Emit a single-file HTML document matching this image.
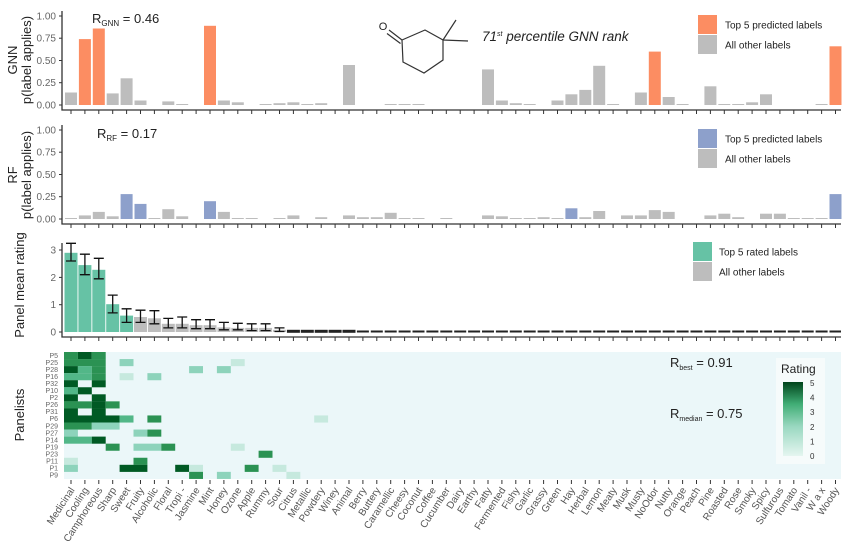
<!DOCTYPE html>
<html><head><meta charset="utf-8"><style>
html,body{margin:0;padding:0;background:#fff;}
svg{display:block;font-family:"Liberation Sans",Arial,sans-serif;}
.tl{font-size:10px;fill:#666;text-anchor:end;}
.ax{stroke:#333;stroke-width:1.3;fill:none;}
.tk{stroke:#333;stroke-width:1;}
.g{fill:#bdbdbd}.o{fill:#fc8d62}.b{fill:#8da0cb}.gr{fill:#66c2a5}
.xl{font-size:10px;fill:#555;text-anchor:end;}
.pl{font-size:7px;fill:#666;text-anchor:end;}
.eb{stroke:#111;stroke-width:1.3;fill:none;}
</style></head><body>
<svg width="853" height="553" viewBox="0 0 853 553" xmlns="http://www.w3.org/2000/svg">
<defs>
<pattern id="tk" x="64.05" y="0" width="13.9" height="553" patternUnits="userSpaceOnUse">
<rect x="6.45" y="0" width="1" height="553" fill="#333"/>
</pattern>
<linearGradient id="rg" x1="0" y1="1" x2="0" y2="0">
<stop offset="0" stop-color="#e5f5f0"/><stop offset="0.4" stop-color="#99d8c0"/><stop offset="0.7" stop-color="#41ae76"/><stop offset="1" stop-color="#00441b"/>
</linearGradient>
</defs>

<!-- ===== Panel 1 GNN ===== -->
<text transform="translate(17,60) rotate(-90)" font-size="13" fill="#222" text-anchor="middle">GNN</text>
<text transform="translate(31,60) rotate(-90)" font-size="13" fill="#222" text-anchor="middle">p(label applies)</text>
<text x="56" y="19.5" class="tl">1.00</text><text x="56" y="41.7" class="tl">0.75</text><text x="56" y="64" class="tl">0.50</text><text x="56" y="86.2" class="tl">0.25</text><text x="56" y="108.5" class="tl">0.00</text>
<g class="tk"><line x1="59" x2="62" y1="16" y2="16"/><line x1="59" x2="62" y1="38.2" y2="38.2"/><line x1="59" x2="62" y1="60.5" y2="60.5"/><line x1="59" x2="62" y1="82.7" y2="82.7"/><line x1="59" x2="62" y1="105" y2="105"/></g>
<g>
<rect class="g" x="65" y="92.5" width="12" height="12.5"/>
<rect class="o" x="78.9" y="39.1" width="12" height="65.9"/>
<rect class="o" x="92.8" y="28.5" width="12" height="76.5"/>
<rect class="g" x="106.7" y="93.4" width="12" height="11.6"/>
<rect class="g" x="120.6" y="78.3" width="12" height="26.7"/>
<rect class="g" x="134.5" y="100.5" width="12" height="4.5"/>
<rect class="g" x="162.3" y="101.4" width="12" height="3.6"/>
<rect class="g" x="176.2" y="104" width="12" height="1"/>
<rect class="o" x="204" y="25.8" width="12" height="79.2"/>
<rect class="g" x="217.9" y="100.5" width="12" height="4.5"/>
<rect class="g" x="231.8" y="102.3" width="12" height="2.7"/>
<rect class="g" x="259.6" y="104" width="12" height="1"/>
<rect class="g" x="273.5" y="103.2" width="12" height="1.8"/>
<rect class="g" x="287.4" y="102.3" width="12" height="2.7"/>
<rect class="g" x="301.3" y="104" width="12" height="1"/>
<rect class="g" x="315.2" y="103.2" width="12" height="1.8"/>
<rect class="g" x="343" y="65" width="12" height="40"/>
<rect class="g" x="384.7" y="104" width="12" height="1"/>
<rect class="g" x="398.6" y="104" width="12" height="1"/>
<rect class="g" x="412.5" y="104" width="12" height="1"/>
<rect class="g" x="482" y="69.4" width="12" height="35.6"/>
<rect class="g" x="495.9" y="100.5" width="12" height="4.5"/>
<rect class="g" x="509.8" y="103.2" width="12" height="1.8"/>
<rect class="g" x="523.7" y="104" width="12" height="1"/>
<rect class="g" x="551.5" y="100.5" width="12" height="4.5"/>
<rect class="g" x="565.4" y="94.3" width="12" height="10.7"/>
<rect class="g" x="579.3" y="89.9" width="12" height="15.1"/>
<rect class="g" x="593.2" y="65.8" width="12" height="39.2"/>
<rect class="g" x="607.1" y="104" width="12" height="1"/>
<rect class="g" x="634.9" y="92.5" width="12" height="12.5"/>
<rect class="o" x="648.8" y="51.6" width="12" height="53.4"/>
<rect class="g" x="662.7" y="97" width="12" height="8"/>
<rect class="g" x="676.6" y="104" width="12" height="1"/>
<rect class="g" x="704.4" y="86.3" width="12" height="18.7"/>
<rect class="g" x="718.3" y="104" width="12" height="1"/>
<rect class="g" x="732.2" y="104" width="12" height="1"/>
<rect class="g" x="746.1" y="102.3" width="12" height="2.7"/>
<rect class="g" x="760" y="94.3" width="12" height="10.7"/>
<rect class="g" x="815.6" y="104" width="12" height="1"/>
<rect class="o" x="829.5" y="46.3" width="12" height="58.7"/>
</g>
<path class="ax" d="M62,11 V110 H841"/>
<rect x="64" y="110" width="777" height="4" fill="url(#tk)"/>
<text x="92" y="23" font-size="13" fill="#222">R<tspan font-size="8" dy="3">GNN</tspan><tspan dy="-3"> = 0.46</tspan></text>
<!-- molecule -->
<g stroke="#333" stroke-width="1.2" fill="none">
<path d="M402,40 L425,30 L443,40 L443,60 L424,73 L403,62 Z"/>
<path d="M389,30 L402,40 M387,33.5 L400.5,43.5"/>
<path d="M443,40 L456,20 M443,40 L468,41"/>
</g>
<text x="383" y="30" font-size="11" fill="#222" text-anchor="middle">O</text>
<text x="482" y="41" font-size="13.5" font-style="italic" fill="#222">71<tspan font-size="7" dy="-5">st</tspan><tspan dy="5"> percentile GNN rank</tspan></text>
<rect class="o" x="698" y="15" width="19" height="19"/>
<rect class="g" x="698" y="35" width="19" height="19"/>
<text x="725" y="28.5" font-size="10" fill="#222">Top 5 predicted labels</text>
<text x="725" y="48.5" font-size="10" fill="#222">All other labels</text>

<!-- ===== Panel 2 RF ===== -->
<text transform="translate(17,175) rotate(-90)" font-size="13" fill="#222" text-anchor="middle">RF</text>
<text transform="translate(31,175) rotate(-90)" font-size="13" fill="#222" text-anchor="middle">p(label applies)</text>
<text x="56" y="133.5" class="tl">1.00</text><text x="56" y="155.7" class="tl">0.75</text><text x="56" y="178" class="tl">0.50</text><text x="56" y="200.2" class="tl">0.25</text><text x="56" y="222.5" class="tl">0.00</text>
<g class="tk"><line x1="59" x2="62" y1="130" y2="130"/><line x1="59" x2="62" y1="152.2" y2="152.2"/><line x1="59" x2="62" y1="174.5" y2="174.5"/><line x1="59" x2="62" y1="196.7" y2="196.7"/><line x1="59" x2="62" y1="219" y2="219"/></g>
<g>
<rect class="g" x="65" y="218" width="12" height="1"/>
<rect class="g" x="78.9" y="215.4" width="12" height="3.6"/>
<rect class="g" x="92.8" y="211.9" width="12" height="7.1"/>
<rect class="g" x="106.7" y="216.3" width="12" height="2.7"/>
<rect class="b" x="120.6" y="194.1" width="12" height="24.9"/>
<rect class="b" x="134.5" y="203.9" width="12" height="15.1"/>
<rect class="g" x="148.4" y="218" width="12" height="1"/>
<rect class="g" x="162.3" y="209.2" width="12" height="9.8"/>
<rect class="g" x="176.2" y="216.3" width="12" height="2.7"/>
<rect class="b" x="204" y="201.2" width="12" height="17.8"/>
<rect class="g" x="217.9" y="211.9" width="12" height="7.1"/>
<rect class="g" x="231.8" y="218" width="12" height="1"/>
<rect class="g" x="245.7" y="218" width="12" height="1"/>
<rect class="g" x="273.5" y="218" width="12" height="1"/>
<rect class="g" x="287.4" y="215.4" width="12" height="3.6"/>
<rect class="g" x="315.2" y="217.2" width="12" height="1.8"/>
<rect class="g" x="343" y="215.4" width="12" height="3.6"/>
<rect class="g" x="356.9" y="217.2" width="12" height="1.8"/>
<rect class="g" x="370.8" y="217.2" width="12" height="1.8"/>
<rect class="g" x="384.7" y="212.8" width="12" height="6.2"/>
<rect class="g" x="398.6" y="218" width="12" height="1"/>
<rect class="g" x="412.5" y="218" width="12" height="1"/>
<rect class="g" x="440.3" y="218" width="12" height="1"/>
<rect class="g" x="482" y="215.4" width="12" height="3.6"/>
<rect class="g" x="495.9" y="216.3" width="12" height="2.7"/>
<rect class="g" x="509.8" y="218" width="12" height="1"/>
<rect class="g" x="523.7" y="218" width="12" height="1"/>
<rect class="g" x="537.6" y="217.2" width="12" height="1.8"/>
<rect class="g" x="551.5" y="218" width="12" height="1"/>
<rect class="b" x="565.4" y="208.3" width="12" height="10.7"/>
<rect class="g" x="579.3" y="217.2" width="12" height="1.8"/>
<rect class="g" x="593.2" y="211" width="12" height="8"/>
<rect class="g" x="621" y="215.4" width="12" height="3.6"/>
<rect class="g" x="634.9" y="215.4" width="12" height="3.6"/>
<rect class="g" x="648.8" y="210.1" width="12" height="8.9"/>
<rect class="g" x="662.7" y="211.9" width="12" height="7.1"/>
<rect class="g" x="704.4" y="215.4" width="12" height="3.6"/>
<rect class="g" x="718.3" y="213.7" width="12" height="5.3"/>
<rect class="g" x="732.2" y="217.2" width="12" height="1.8"/>
<rect class="g" x="760" y="213.7" width="12" height="5.3"/>
<rect class="g" x="773.9" y="213.7" width="12" height="5.3"/>
<rect class="g" x="787.8" y="218" width="12" height="1"/>
<rect class="g" x="801.7" y="218" width="12" height="1"/>
<rect class="g" x="815.6" y="218" width="12" height="1"/>
<rect class="b" x="829.5" y="194.1" width="12" height="24.9"/>
</g>
<path class="ax" d="M62,125 V224 H841"/>
<rect x="64" y="224" width="777" height="4" fill="url(#tk)"/>
<text x="97" y="138" font-size="13" fill="#222">R<tspan font-size="8" dy="3">RF</tspan><tspan dy="-3"> = 0.17</tspan></text>
<rect class="b" x="698" y="129" width="19" height="19"/>
<rect class="g" x="698" y="149" width="19" height="19"/>
<text x="725" y="142.5" font-size="10" fill="#222">Top 5 predicted labels</text>
<text x="725" y="162.5" font-size="10" fill="#222">All other labels</text>

<!-- ===== Panel 3 mean rating ===== -->
<text transform="translate(24,285) rotate(-90)" font-size="13" fill="#222" text-anchor="middle">Panel mean rating</text>
<text x="56" y="253.5" class="tl">3</text><text x="56" y="280.8" class="tl">2</text><text x="56" y="308.1" class="tl">1</text><text x="56" y="335.5" class="tl">0</text>
<g class="tk"><line x1="59" x2="62" y1="250" y2="250"/><line x1="59" x2="62" y1="277.4" y2="277.4"/><line x1="59" x2="62" y1="304.7" y2="304.7"/><line x1="59" x2="62" y1="332" y2="332"/></g>
<g>
<rect class="gr" x="64.5" y="252.8" width="13" height="79.2"/>
<rect class="gr" x="78.4" y="265.1" width="13" height="66.9"/>
<rect class="gr" x="92.3" y="269.8" width="13" height="62.2"/>
<rect class="gr" x="106.2" y="304.2" width="13" height="27.8"/>
<rect class="gr" x="120.1" y="315.6" width="13" height="16.4"/>
<rect class="g" x="134" y="317" width="13" height="15"/>
<rect class="g" x="147.9" y="318.3" width="13" height="13.7"/>
<rect class="g" x="161.8" y="323.8" width="13" height="8.2"/>
<rect class="g" x="175.7" y="323.8" width="13" height="8.2"/>
<rect class="g" x="189.6" y="325.2" width="13" height="6.8"/>
<rect class="g" x="203.5" y="325.2" width="13" height="6.8"/>
<rect class="g" x="217.4" y="327.4" width="13" height="4.6"/>
<rect class="g" x="231.3" y="327.9" width="13" height="4.1"/>
<rect class="g" x="245.2" y="327.9" width="13" height="4.1"/>
<rect class="g" x="259.1" y="327.9" width="13" height="4.1"/>
<rect class="g" x="273" y="329.8" width="13" height="2.2"/>
<rect fill="#222" x="286.9" y="329.8" width="13" height="3"/>
<rect fill="#222" x="300.8" y="329.8" width="13" height="3"/>
<rect fill="#222" x="314.7" y="329.8" width="13" height="3"/>
<rect fill="#222" x="328.6" y="329.8" width="13" height="3"/>
<rect fill="#222" x="342.5" y="329.8" width="13" height="3"/>
</g>
<line x1="356.9" x2="841" y1="331.5" y2="331.5" stroke="#222" stroke-width="2" stroke-dasharray="12 1.9"/>
<g class="eb">
<path d="M66,243.3 H76 M71,243.3 V261 M66,261 H76"/>
<path d="M79.9,254.2 H89.9 M84.9,254.2 V274.7 M79.9,274.7 H89.9"/>
<path d="M93.8,258.3 H103.8 M98.8,258.3 V278.8 M93.8,278.8 H103.8"/>
<path d="M107.7,295.1 H117.7 M112.7,295.1 V312.9 M107.7,312.9 H117.7"/>
<path d="M121.6,308.8 H131.6 M126.6,308.8 V322.4 M121.6,322.4 H131.6"/>
<path d="M135.5,310.2 H145.5 M140.5,310.2 V322.4 M135.5,322.4 H145.5"/>
<path d="M149.4,310.7 H159.4 M154.4,310.7 V323.8 M149.4,323.8 H159.4"/>
<path d="M163.3,318.4 H173.3 M168.3,318.4 V327.9 M163.3,327.9 H173.3"/>
<path d="M177.2,317 H187.2 M182.2,317 V327.9 M177.2,327.9 H187.2"/>
<path d="M191.1,319.7 H201.1 M196.1,319.7 V328.7 M191.1,328.7 H201.1"/>
<path d="M205,319.7 H215 M210,319.7 V328.7 M205,328.7 H215"/>
<path d="M218.9,322.4 H228.9 M223.9,322.4 V329.8 M218.9,329.8 H228.9"/>
<path d="M232.8,323.3 H242.8 M237.8,323.3 V329.8 M232.8,329.8 H242.8"/>
<path d="M246.7,323.8 H256.7 M251.7,323.8 V330.6 M246.7,330.6 H256.7"/>
<path d="M260.6,323.8 H270.6 M265.6,323.8 V330.6 M260.6,330.6 H270.6"/>
<path d="M274.5,327.9 H284.5 M279.5,327.9 V331.5 M274.5,331.5 H284.5"/>
</g>
<path class="ax" d="M62,243 V337 H841"/>
<rect x="64" y="337" width="777" height="4" fill="url(#tk)"/>
<rect class="gr" x="693" y="242" width="19" height="19"/>
<rect class="g" x="693" y="262" width="19" height="19"/>
<text x="719" y="255.5" font-size="10" fill="#222">Top 5 rated labels</text>
<text x="719" y="275.5" font-size="10" fill="#222">All other labels</text>

<!-- ===== Panel 4 heatmap ===== -->
<text transform="translate(24,415) rotate(-90)" font-size="13" fill="#222" text-anchor="middle">Panelists</text>
<rect x="64" y="352" width="777" height="127" fill="#ebf7f9"/>
<g>
<!-- P5 r0 y352 -->
<rect x="64" y="352" width="13.9" height="7.1" fill="#2b9253"/><rect x="77.9" y="352" width="13.9" height="7.1" fill="#005a24"/><rect x="91.8" y="352" width="13.9" height="7.1" fill="#2b9253"/>
<!-- P25 r1 359.05 -->
<rect x="64" y="359.05" width="41.7" height="7.1" fill="#2b9253"/><rect x="119.6" y="359.05" width="13.9" height="7.1" fill="#8dd3bb"/><rect x="230.8" y="359.05" width="13.9" height="7.1" fill="#c6e9de"/>
<!-- P28 r2 366.1 -->
<rect x="64" y="366.1" width="13.9" height="7.1" fill="#005a24"/><rect x="77.9" y="366.1" width="13.9" height="7.1" fill="#52b788"/><rect x="91.8" y="366.1" width="13.9" height="7.1" fill="#2b9253"/><rect x="189.1" y="366.1" width="13.9" height="7.1" fill="#8dd3bb"/><rect x="216.9" y="366.1" width="13.9" height="7.1" fill="#8dd3bb"/>
<!-- P16 r3 373.15 -->
<rect x="64" y="373.15" width="27.8" height="7.1" fill="#52b788"/><rect x="91.8" y="373.15" width="13.9" height="7.1" fill="#2b9253"/><rect x="119.6" y="373.15" width="13.9" height="7.1" fill="#c6e9de"/><rect x="147.4" y="373.15" width="13.9" height="7.1" fill="#8dd3bb"/>
<!-- P32 r4 380.2 -->
<rect x="64" y="380.2" width="13.9" height="7.1" fill="#005a24"/><rect x="91.8" y="380.2" width="13.9" height="7.1" fill="#005a24"/>
<!-- P10 r5 387.25 -->
<rect x="64" y="387.25" width="13.9" height="7.1" fill="#52b788"/><rect x="77.9" y="387.25" width="13.9" height="7.1" fill="#005a24"/>
<!-- P2 r6 394.3 -->
<rect x="64" y="394.3" width="13.9" height="7.1" fill="#005a24"/><rect x="91.8" y="394.3" width="13.9" height="7.1" fill="#005a24"/>
<!-- P26 r7 401.35 -->
<rect x="64" y="401.35" width="27.8" height="7.1" fill="#2b9253"/><rect x="91.8" y="401.35" width="13.9" height="7.1" fill="#005a24"/><rect x="105.7" y="401.35" width="13.9" height="7.1" fill="#2b9253"/>
<!-- P31 r8 408.4 -->
<rect x="64" y="408.4" width="13.9" height="7.1" fill="#005a24"/><rect x="91.8" y="408.4" width="13.9" height="7.1" fill="#005a24"/>
<!-- P6 r9 415.45 -->
<rect x="64" y="415.45" width="55.6" height="7.1" fill="#005a24"/><rect x="119.6" y="415.45" width="13.9" height="7.1" fill="#52b788"/><rect x="147.4" y="415.45" width="13.9" height="7.1" fill="#2b9253"/><rect x="314.2" y="415.45" width="13.9" height="7.1" fill="#c6e9de"/>
<!-- P29 r10 422.5 -->
<rect x="64" y="422.5" width="27.8" height="7.1" fill="#2b9253"/><rect x="91.8" y="422.5" width="27.8" height="7.1" fill="#8dd3bb"/>
<!-- P27 r11 429.55 -->
<rect x="64" y="429.55" width="13.9" height="7.1" fill="#8dd3bb"/><rect x="133.5" y="429.55" width="13.9" height="7.1" fill="#8dd3bb"/><rect x="147.4" y="429.55" width="13.9" height="7.1" fill="#2b9253"/>
<!-- P14 r12 436.6 -->
<rect x="64" y="436.6" width="27.8" height="7.1" fill="#52b788"/><rect x="91.8" y="436.6" width="13.9" height="7.1" fill="#005a24"/>
<!-- P19 r13 443.65 -->
<rect x="105.7" y="443.65" width="13.9" height="7.1" fill="#2b9253"/><rect x="133.5" y="443.65" width="27.8" height="7.1" fill="#8dd3bb"/><rect x="161.3" y="443.65" width="13.9" height="7.1" fill="#2b9253"/><rect x="230.8" y="443.65" width="13.9" height="7.1" fill="#c6e9de"/>
<!-- P23 r14 450.7 -->
<rect x="258.6" y="450.7" width="13.9" height="7.1" fill="#2b9253"/>
<!-- P11 r15 457.75 -->
<rect x="64" y="457.75" width="13.9" height="7.1" fill="#c6e9de"/><rect x="133.5" y="457.75" width="13.9" height="7.1" fill="#2b9253"/>
<!-- P1 r16 464.8 -->
<rect x="64" y="464.8" width="13.9" height="7.1" fill="#8dd3bb"/><rect x="119.6" y="464.8" width="27.8" height="7.1" fill="#005a24"/><rect x="175.2" y="464.8" width="13.9" height="7.1" fill="#005a24"/><rect x="189.1" y="464.8" width="13.9" height="7.1" fill="#c6e9de"/><rect x="244.7" y="464.8" width="13.9" height="7.1" fill="#2b9253"/><rect x="272.5" y="464.8" width="13.9" height="7.1" fill="#c6e9de"/>
<!-- P9 r17 471.85 -->
<rect x="189.1" y="471.85" width="13.9" height="7.1" fill="#2b9253"/><rect x="216.9" y="471.85" width="13.9" height="7.1" fill="#8dd3bb"/><rect x="286.4" y="471.85" width="13.9" height="7.1" fill="#c6e9de"/>
</g>
<g class="pl">
<text x="58" y="358">P5</text><text x="58" y="365">P25</text><text x="58" y="372">P28</text><text x="58" y="379">P16</text><text x="58" y="386">P32</text><text x="58" y="393">P10</text><text x="58" y="400">P2</text><text x="58" y="407">P26</text><text x="58" y="414">P31</text><text x="58" y="421">P6</text><text x="58" y="428.5">P29</text><text x="58" y="435.5">P27</text><text x="58" y="442.5">P14</text><text x="58" y="449.5">P19</text><text x="58" y="456.5">P23</text><text x="58" y="463.5">P11</text><text x="58" y="470.5">P1</text><text x="58" y="477.5">P9</text>
</g>
<rect x="64" y="480" width="777" height="4" fill="url(#tk)"/>
<text x="670" y="367" font-size="13" fill="#222">R<tspan font-size="7" dy="3">best</tspan><tspan dy="-3"> = 0.91</tspan></text>
<text x="670" y="418" font-size="13" fill="#222">R<tspan font-size="7" dy="3">median</tspan><tspan dy="-3"> = 0.75</tspan></text>
<rect x="776" y="358" width="49" height="106" fill="#f6fbfb"/>
<text x="781" y="373" font-size="12" fill="#222">Rating</text>
<rect x="783" y="382" width="20" height="74" fill="url(#rg)"/>
<g font-size="8" fill="#333"><text x="810" y="386">5</text><text x="810" y="400.5">4</text><text x="810" y="415">3</text><text x="810" y="430">2</text><text x="810" y="444.5">1</text><text x="810" y="459">0</text></g>

<!-- x labels -->
<g class="xl">
<text transform="translate(75,490) rotate(-57)">Medicinal</text>
<text transform="translate(88.9,490) rotate(-57)">Cooling</text>
<text transform="translate(102.8,490) rotate(-57)">Camphoreous</text>
<text transform="translate(116.7,490) rotate(-57)">Sharp</text>
<text transform="translate(130.6,490) rotate(-57)">Sweet</text>
<text transform="translate(144.5,490) rotate(-57)">Fruity</text>
<text transform="translate(158.4,490) rotate(-57)">Alcoholic</text>
<text transform="translate(172.3,490) rotate(-57)">Floral</text>
<text transform="translate(186.2,490) rotate(-57)">Tropi -</text>
<text transform="translate(200.1,490) rotate(-57)">Jasmine</text>
<text transform="translate(214,490) rotate(-57)">Mint</text>
<text transform="translate(227.9,490) rotate(-57)">Honey</text>
<text transform="translate(241.8,490) rotate(-57)">Ozone</text>
<text transform="translate(255.7,490) rotate(-57)">Apple</text>
<text transform="translate(269.6,490) rotate(-57)">Rummy</text>
<text transform="translate(283.5,490) rotate(-57)">Sour</text>
<text transform="translate(297.4,490) rotate(-57)">Citrus</text>
<text transform="translate(311.3,490) rotate(-57)">Metallic</text>
<text transform="translate(325.2,490) rotate(-57)">Powdery</text>
<text transform="translate(339.1,490) rotate(-57)">Winey</text>
<text transform="translate(353,490) rotate(-57)">Animal</text>
<text transform="translate(366.9,490) rotate(-57)">Berry</text>
<text transform="translate(380.8,490) rotate(-57)">Buttery</text>
<text transform="translate(394.7,490) rotate(-57)">Caramellic</text>
<text transform="translate(408.6,490) rotate(-57)">Cheesy</text>
<text transform="translate(422.5,490) rotate(-57)">Coconut</text>
<text transform="translate(436.4,490) rotate(-57)">Coffee</text>
<text transform="translate(450.3,490) rotate(-57)">Cucumber</text>
<text transform="translate(464.2,490) rotate(-57)">Dairy</text>
<text transform="translate(478.1,490) rotate(-57)">Earthy</text>
<text transform="translate(492,490) rotate(-57)">Fatty</text>
<text transform="translate(505.9,490) rotate(-57)">Fermented</text>
<text transform="translate(519.8,490) rotate(-57)">Fishy</text>
<text transform="translate(533.7,490) rotate(-57)">Garlic</text>
<text transform="translate(547.6,490) rotate(-57)">Grassy</text>
<text transform="translate(561.5,490) rotate(-57)">Green</text>
<text transform="translate(575.4,490) rotate(-57)">Hay</text>
<text transform="translate(589.3,490) rotate(-57)">Herbal</text>
<text transform="translate(603.2,490) rotate(-57)">Lemon</text>
<text transform="translate(617.1,490) rotate(-57)">Meaty</text>
<text transform="translate(631,490) rotate(-57)">Musk</text>
<text transform="translate(644.9,490) rotate(-57)">Musty</text>
<text transform="translate(658.8,490) rotate(-57)">NoOdor</text>
<text transform="translate(672.7,490) rotate(-57)">Nutty</text>
<text transform="translate(686.6,490) rotate(-57)">Orange</text>
<text transform="translate(700.5,490) rotate(-57)">Peach</text>
<text transform="translate(714.4,490) rotate(-57)">Pine</text>
<text transform="translate(728.3,490) rotate(-57)">Roasted</text>
<text transform="translate(742.2,490) rotate(-57)">Rose</text>
<text transform="translate(756.1,490) rotate(-57)">Smoky</text>
<text transform="translate(770,490) rotate(-57)">Spicy</text>
<text transform="translate(783.9,490) rotate(-57)">Sulfurous</text>
<text transform="translate(797.8,490) rotate(-57)">Tomato</text>
<text transform="translate(811.7,490) rotate(-57)">Vanil -</text>
<text transform="translate(825.6,490) rotate(-57)">W a x</text>
<text transform="translate(839.5,490) rotate(-57)">Woody</text>
</g>
</svg>
</body></html>
